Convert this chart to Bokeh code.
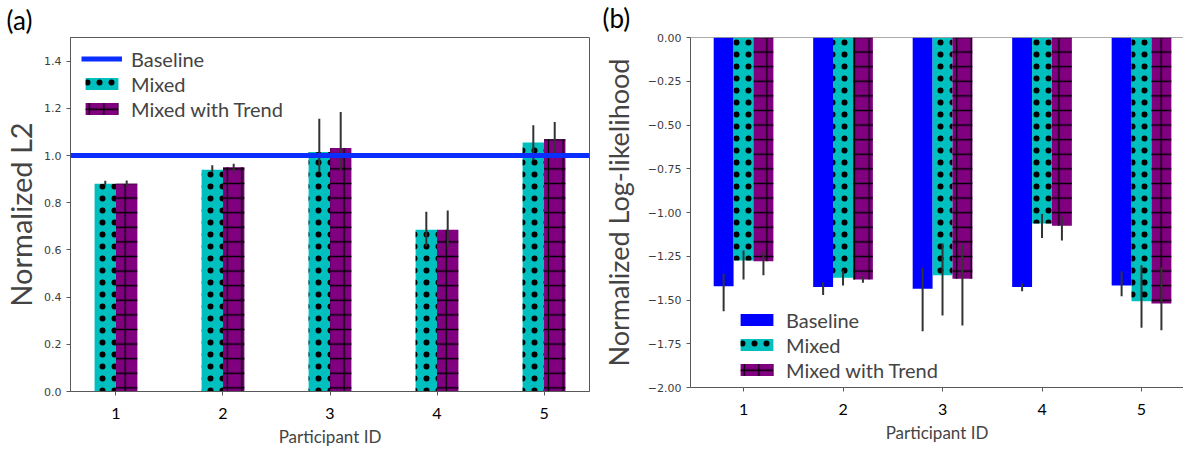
import numpy as np
from bokeh.plotting import figure
from bokeh.models import (ColumnDataSource, Span, Legend, LegendItem, Title,
                          FixedTicker, Range1d)
from bokeh.layouts import row
from bokeh.embed import file_html
from bokeh.resources import INLINE

# ---------------- data ----------------
participants = [1, 2, 3, 4, 5]

# panel (a): normalized L2
l2_baseline = 1.0
l2_mixed = [0.88, 0.94, 1.015, 0.685, 1.055]
l2_mixed_lo = [0.876, 0.931, 0.93, 0.615, 0.98]
l2_mixed_hi = [0.893, 0.959, 1.156, 0.762, 1.128]
l2_trend = [0.88, 0.95, 1.032, 0.685, 1.069]
l2_trend_lo = [0.87, 0.927, 0.938, 0.612, 0.996]
l2_trend_hi = [0.894, 0.965, 1.184, 0.767, 1.142]
l2_ticks = [0.0, 0.2, 0.4, 0.6, 0.8, 1.0, 1.2, 1.4]

# panel (b): normalized log-likelihood
ll_baseline = [-1.421, -1.425, -1.436, -1.425, -1.417]
ll_baseline_lo = [-1.564, -1.472, -1.678, -1.45, -1.478]
ll_baseline_hi = [-1.35, -1.398, -1.316, -1.406, -1.335]
ll_mixed = [-1.274, -1.373, -1.358, -1.063, -1.507]
ll_mixed_lo = [-1.383, -1.417, -1.589, -1.145, -1.659]
ll_mixed_hi = [-1.217, -1.331, -1.177, -1.008, -1.301]
ll_trend = [-1.278, -1.383, -1.379, -1.076, -1.52]
ll_trend_lo = [-1.358, -1.402, -1.646, -1.16, -1.673]
ll_trend_hi = [-1.221, -1.364, -1.183, -1.023, -1.31]
ll_ticks = [-2.0, -1.75, -1.5, -1.25, -1.0, -0.75, -0.5, -0.25, 0.0]
ll_tick_labels = ["\u22122.00", "\u22121.75", "\u22121.50", "\u22121.25", "\u22121.00",
                  "\u22120.75", "\u22120.50", "\u22120.25", "0.00"]

series_names = ["Baseline", "Mixed", "Mixed with Trend"]
panel_tags = ["(a)", "(b)"]

# ---------------- style ----------------
BLUE = "#0000ff"
LINE_BLUE = "#0a2eff"
TEAL = "#00bfbf"
PURPLE = "#800080"
ERR = "#333333"
SPINE = "#595959"
FONT = "Lato"
BAR_W = 0.2


def style_axes(p):
    for ax in (p.xaxis[0], p.yaxis[0]):
        ax.axis_line_color = SPINE
        ax.major_tick_line_color = SPINE
        ax.major_tick_out = 4
        ax.major_tick_in = 0
        ax.minor_tick_line_color = None
    p.xaxis.ticker = FixedTicker(ticks=participants)
    p.xaxis.major_label_text_font = FONT
    p.xaxis.major_label_text_font_size = "16px"
    p.xaxis.major_label_text_line_height = 1.0
    p.xaxis.major_label_text_color = "black"
    p.xaxis.major_label_standoff = 12
    p.xaxis.axis_label = "Participant ID"
    p.xaxis.axis_label_text_font = FONT
    p.xaxis.axis_label_text_font_size = "17px"
    p.xaxis.axis_label_text_line_height = 1.0
    p.xaxis.axis_label_text_font_style = "normal"
    p.xaxis.axis_label_standoff = 4
    p.yaxis.major_label_text_font = "DejaVu Sans"
    p.yaxis.major_label_text_font_size = "11px"
    p.yaxis.major_label_text_color = "#3c3c3c"
    p.yaxis.major_label_standoff = 5
    p.yaxis.axis_label_text_font = FONT
    p.yaxis.axis_label_text_font_style = "normal"
    p.xgrid.visible = False
    p.ygrid.visible = False


def style_legend(leg):
    leg.background_fill_alpha = 0
    leg.border_line_color = None
    leg.padding = 0
    leg.margin = 0
    leg.spacing = 0
    leg.glyph_width = 41
    leg.glyph_height = 15
    leg.label_height = 25
    leg.label_standoff = 9
    leg.label_text_font = FONT
    leg.label_text_font_size = "20px"
    leg.label_text_baseline = "middle"


def add_tag(p, text, offset, standoff):
    t = Title(text=text, align="left", offset=offset, vertical_align="top",
              standoff=standoff, text_font=FONT, text_font_size="26px",
              text_line_height=1.0, text_font_style="normal", text_color="black")
    p.add_layout(t, "above")


MIXED_STYLE = dict(fill_color=TEAL, line_color=None, hatch_pattern="dot",
                   hatch_color="black", hatch_scale=12, hatch_weight=0.3)
TREND_STYLE = dict(fill_color=PURPLE, line_color=None, hatch_pattern="cross",
                   hatch_color="black", hatch_scale=14.6, hatch_weight=1.3)

# ---------------- panel (a) ----------------
x = np.array(participants, dtype=float)
pa = figure(frame_width=519, frame_height=354, output_backend="svg", toolbar_location=None,
            x_range=Range1d(0.575, 5.425), y_range=Range1d(0.0, 1.5),
            min_border_left=66, min_border_right=9, min_border_top=32,
            min_border_bottom=60)
pa.outline_line_color = SPINE
style_axes(pa)
pa.yaxis.ticker = FixedTicker(ticks=l2_ticks)
pa.yaxis.major_label_overrides = {t: f"{t:.1f}" for t in l2_ticks}
pa.yaxis.axis_label = "Normalized L2"
pa.yaxis.axis_label_text_font_size = "29px"
pa.yaxis.axis_label_standoff = 3

src_am = ColumnDataSource(dict(x=x - BAR_W / 2, top=l2_mixed, lo=l2_mixed_lo, hi=l2_mixed_hi))
src_at = ColumnDataSource(dict(x=x + BAR_W / 2, top=l2_trend, lo=l2_trend_lo, hi=l2_trend_hi))

r_am = pa.vbar(x="x", top="top", bottom=0, width=BAR_W, source=src_am, **MIXED_STYLE)
r_at = pa.vbar(x="x", top="top", bottom=0, width=BAR_W, source=src_at, **TREND_STYLE)
pa.segment(x0="x", x1="x", y0="lo", y1="hi", source=src_am, line_color=ERR, line_width=2)
pa.segment(x0="x", x1="x", y0="lo", y1="hi", source=src_at, line_color=ERR, line_width=2)

pa.add_layout(Span(location=l2_baseline, dimension="width", line_color=LINE_BLUE, line_width=5))
r_al = pa.line(x=[participants[0]], y=[l2_baseline], line_color=LINE_BLUE, line_width=5)

leg_a = Legend(items=[LegendItem(label=series_names[0], renderers=[r_al]),
                      LegendItem(label=series_names[1], renderers=[r_am]),
                      LegendItem(label=series_names[2], renderers=[r_at])],
               location=(11, 270))
style_legend(leg_a)
pa.add_layout(leg_a)
add_tag(pa, panel_tags[0], -64, 0)

# ---------------- panel (b) ----------------
pb = figure(frame_width=493, frame_height=350, output_backend="svg", toolbar_location=None,
            x_range=Range1d(0.467, 5.422), y_range=Range1d(-2.0, 0.0),
            min_border_left=88, min_border_right=0, min_border_top=35,
            min_border_bottom=61)
pb.outline_line_color = None
style_axes(pb)
pb.yaxis.ticker = FixedTicker(ticks=ll_ticks)
pb.yaxis.major_label_overrides = dict(zip(ll_ticks, ll_tick_labels))
pb.yaxis.axis_label = "Normalized Log-likelihood"
pb.yaxis.axis_label_text_font_size = "27px"
pb.yaxis.axis_label_standoff = 10

src_bb = ColumnDataSource(dict(x=x - BAR_W, v=ll_baseline, lo=ll_baseline_lo, hi=ll_baseline_hi))
src_bm = ColumnDataSource(dict(x=x, v=ll_mixed, lo=ll_mixed_lo, hi=ll_mixed_hi))
src_bt = ColumnDataSource(dict(x=x + BAR_W, v=ll_trend, lo=ll_trend_lo, hi=ll_trend_hi))

r_bb = pb.vbar(x="x", top=0, bottom="v", width=BAR_W, source=src_bb,
               fill_color=BLUE, line_color=None)
r_bm = pb.vbar(x="x", top=0, bottom="v", width=BAR_W, source=src_bm, **MIXED_STYLE)
r_bt = pb.vbar(x="x", top=0, bottom="v", width=BAR_W, source=src_bt, **TREND_STYLE)
for s in (src_bb, src_bm, src_bt):
    pb.segment(x0="x", x1="x", y0="lo", y1="hi", source=s, line_color=ERR, line_width=2)

pb.add_layout(Span(location=0.0, dimension="width", line_color=SPINE, line_width=1))

leg_b = Legend(items=[LegendItem(label=series_names[0], renderers=[r_bb]),
                      LegendItem(label=series_names[1], renderers=[r_bm]),
                      LegendItem(label=series_names[2], renderers=[r_bt])],
               location=(46, 5))
style_legend(leg_b)
pb.add_layout(leg_b)
add_tag(pb, panel_tags[1], -88, 3)

layout = row(pa, pb)
open("out.html", "w").write(file_html(layout, INLINE))
